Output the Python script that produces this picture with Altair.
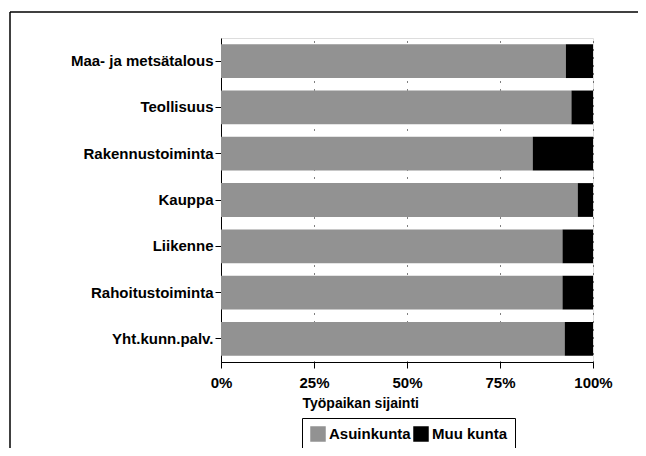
import altair as alt
import pandas as pd

categories = ["Maa- ja metsätalous", "Teollisuus", "Rakennustoiminta", "Kauppa",
              "Liikenne", "Rahoitustoiminta", "Yht.kunn.palv."]
asuinkunta = [92.7, 94.2, 83.8, 95.9, 91.8, 91.8, 92.4]
muu_kunta = [7.3, 5.8, 16.2, 4.1, 8.2, 8.2, 7.6]
series = ["Asuinkunta", "Muu kunta"]
colors = ["#929292", "#000000"]

rows = []
for c, a, m in zip(categories, asuinkunta, muu_kunta):
    rows.append({"ala": c, "sijainti": series[0], "osuus": a, "jarj": 0})
    rows.append({"ala": c, "sijainti": series[1], "osuus": m, "jarj": 1})
df = pd.DataFrame(rows)

FONT = "Liberation Sans"

bars = alt.Chart(df).mark_bar(stroke=None).encode(
    y=alt.Y("ala:N", sort=categories, title=None,
            scale=alt.Scale(paddingInner=0.27, paddingOuter=0.135),
            axis=alt.Axis(domainColor="black", tickColor="black", tickSize=6,
                          labelFont=FONT, labelFontSize=15, labelFontWeight="bold",
                          labelColor="black", labelPadding=2, grid=False)),
    x=alt.X("osuus:Q", stack="normalize", title="Työpaikan sijainti",
            scale=alt.Scale(domain=[0, 1], nice=False),
            axis=alt.Axis(format=".0%", values=[0, 0.25, 0.5, 0.75, 1.0],
                          labelFlush=False,
                          domainColor="black", tickColor="black", tickSize=6,
                          labelFont=FONT, labelFontSize=15, labelFontWeight="bold",
                          labelColor="black", labelPadding=7,
                          titleFont=FONT, titleFontSize=14, titleFontWeight="bold",
                          titleColor="black", titleAnchor="start", titleAlign="left",
                          titleX=81, titleY=45, titleBaseline="alphabetic",
                          grid=True, gridColor="black", gridDash=[1, 7], gridWidth=1)),
    color=alt.Color("sijainti:N", scale=alt.Scale(domain=series, range=colors),
                    legend=alt.Legend(title=None, orient="none", direction="horizontal",
                                      legendX=81, legendY=380, strokeColor="black",
                                      padding=8, symbolType="square", symbolSize=240,
                                      symbolStrokeWidth=0, labelFont=FONT,
                                      labelFontSize=15, labelFontWeight="bold",
                                      labelColor="black", columnPadding=2,
                                      labelOffset=3)),
    order=alt.Order("jarj:Q"),
)

frame_src = alt.Data(values=[{"k": 1}])
left_line = alt.Chart(frame_src).mark_rule(color="black", strokeWidth=1.5).encode(
    x=alt.value(-211), y=alt.value(-26), y2=alt.value(420))
top_line = alt.Chart(frame_src).mark_rule(color="black", strokeWidth=1.5).encode(
    x=alt.value(-211), x2=alt.value(440), y=alt.value(-26))

chart = alt.layer(bars, left_line, top_line).properties(
    width=372, height=324,
    padding={"left": 213, "top": 30, "right": 45, "bottom": 86},
    autosize=alt.AutoSizeParams(type="none"),
).configure_view(stroke=None).configure(background="white")

chart.save("out.html", embed_options={"renderer": "svg", "actions": False})
